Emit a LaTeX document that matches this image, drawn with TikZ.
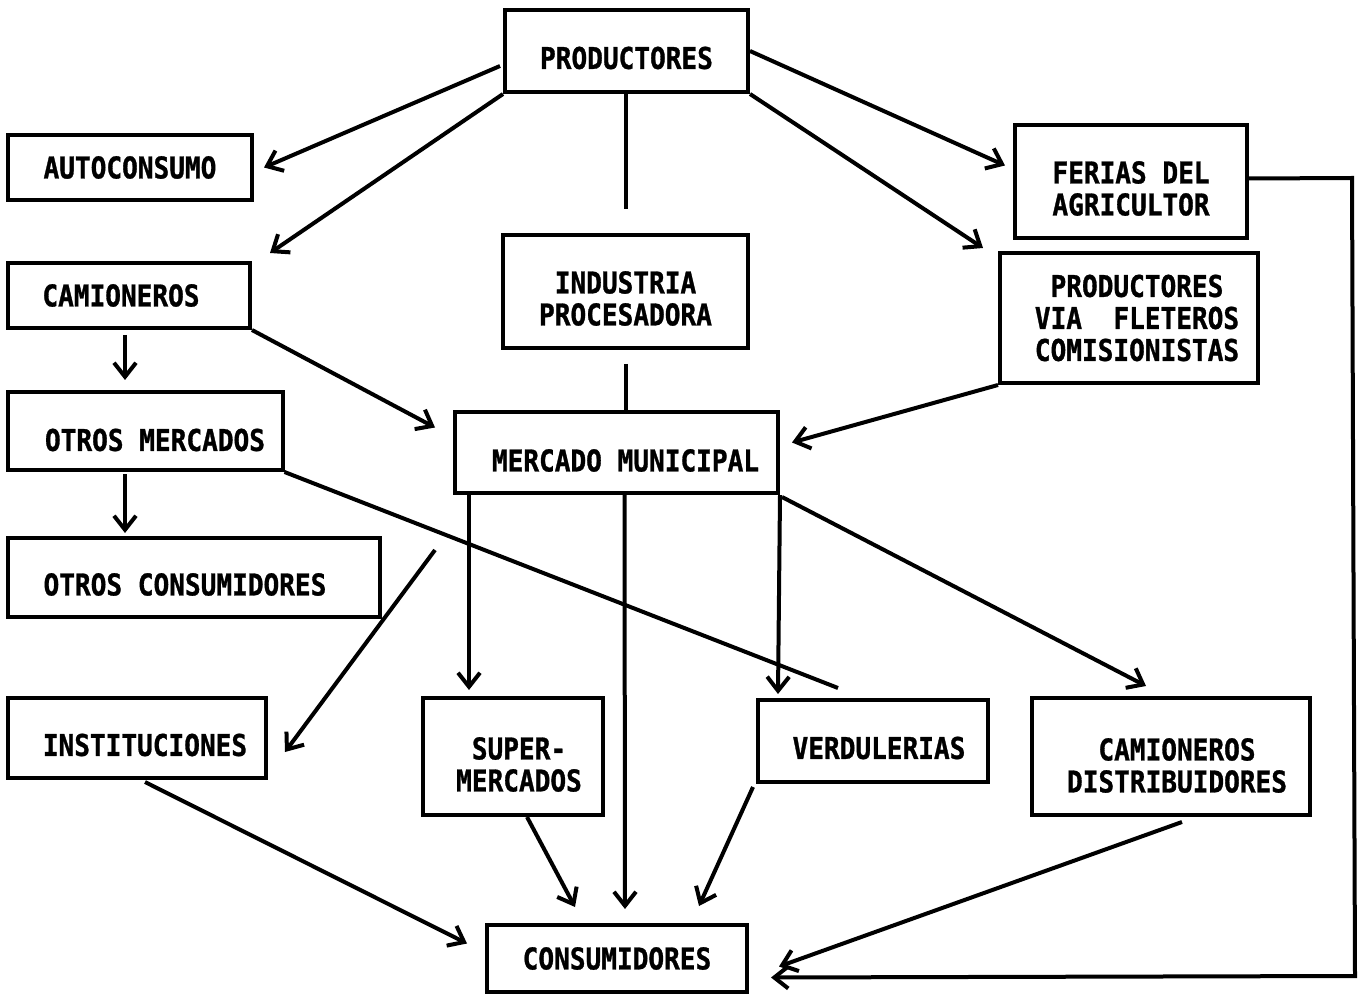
\documentclass[tikz,border=0pt]{standalone}
\usepackage{fontspec}
\newfontfamily\boxfont{DejaVu Sans Mono}[FakeStretch=0.87, BoldFeatures={FakeBold=1}]
\usetikzlibrary{arrows.meta,calc}

\begin{document}
\begin{tikzpicture}[x=0.5pt,y=-0.5pt,
  box/.style={draw, line width=2pt, inner sep=0pt},
  txt/.style={inner sep=0pt, align=center,
              font=\boxfont\bfseries\fontsize{15}{16}\selectfont},
  flow/.style={line width=2pt,
               -{Straight Barb[length=7pt,width=11pt,line width=2pt]}},
  link/.style={line width=2pt}]
\fill[white] (0,0) rectangle (1365,994);
\useasboundingbox (0,0) rectangle (1365,994);

% boxes
\node[box, minimum width=121.5pt, minimum height=41pt]   (prod) at (626.5,51)   {};
\node[box, minimum width=122pt,   minimum height=32.5pt] (auto) at (130,167.5)  {};
\node[box, minimum width=121pt,   minimum height=32.5pt] (cam)  at (129,295.5)  {};
\node[box, minimum width=137.5pt, minimum height=39pt]   (otrm) at (145,431)    {};
\node[box, minimum width=186pt,   minimum height=39.5pt] (otrc) at (194,577.5)  {};
\node[box, minimum width=129pt,   minimum height=40pt]   (inst) at (137,738)    {};
\node[box, minimum width=122.5pt, minimum height=56.5pt] (ind)  at (625.5,291.5){};
\node[box, minimum width=161.5pt, minimum height=40.5pt] (mm)   at (616.5,452.5){};
\node[box, minimum width=116pt,   minimum height=56.5pt] (fer)  at (1131,181.5) {};
\node[box, minimum width=129pt,   minimum height=65pt]   (pvf)  at (1129,318)   {};
\node[box, minimum width=90pt,    minimum height=58.5pt] (sup)  at (513,756.5)  {};
\node[box, minimum width=115pt,   minimum height=41pt]   (ver)  at (873,741)    {};
\node[box, minimum width=139pt,   minimum height=58.5pt] (cdis) at (1171,756.5) {};
\node[box, minimum width=130pt,   minimum height=33.5pt] (cons) at (617,958.5)  {};

% box labels
\node[txt] (prod-t) at ($(prod)+(0,7)$)   {PRODUCTORES};
\node[txt] (auto-t) at (auto)             {AUTOCONSUMO};
\node[txt] (cam-t)  at ($(cam)+(-8,0)$)   {CAMIONEROS};
\node[txt] (otrm-t) at ($(otrm)+(10,9)$)  {OTROS MERCADOS};
\node[txt] (otrc-t) at ($(otrc)+(-9,7)$)  {OTROS CONSUMIDORES};
\node[txt] (inst-t) at ($(inst)+(8,7)$)   {INSTITUCIONES};
\node[txt] (ind-t)  at ($(ind)+(0,7)$)    {INDUSTRIA\\PROCESADORA};
\node[txt] (mm-t)   at ($(mm)+(9,8)$)     {MERCADO MUNICIPAL};
\node[txt] (fer-t)  at ($(fer)+(0,7)$)    {FERIAS DEL\\AGRICULTOR};
\node[txt] (pvf-t)  at ($(pvf)+(8,0)$)    {PRODUCTORES\\VIA~~FLETEROS\\COMISIONISTAS};
\node[txt] (sup-t)  at ($(sup)+(6,8)$)    {SUPER-\\MERCADOS};
\node[txt] (ver-t)  at ($(ver)+(6,7)$)    {VERDULERIAS};
\node[txt] (cdis-t) at ($(cdis)+(6,9)$)   {CAMIONEROS\\DISTRIBUIDORES};
\node[txt] (cons-t) at (cons)             {CONSUMIDORES};

% corners of the return line from the farmers' fairs
\coordinate (r1) at (1352,178);
\coordinate (r2) at (1355,976);

% flows out of the producers
\draw[flow] ($(prod.west)+(-3,15)$) -- ($(auto.east)+(10,0)$);
\draw[flow] (prod.south west) -- ($(cam.north east)+(18,-8)$);
\draw[link, shorten >=12pt] (prod.south -| ind.north) -- (ind.north);
\draw[flow] (prod.east) -- ($(fer.west)+(-8,-16)$);
\draw[flow] (prod.south east) -- ($(pvf.north west)+(-15,-3)$);

% left column
\draw[flow] ($(cam.south)+(-4,5)$) -- ($(otrm.north)+(-20,-10)$);
\draw[flow] (cam.south east) -- ($(mm.west)+(-18,-25)$);
\draw[flow] ($(otrm.south)+(-20,2)$) -- ($(otrc.north)+(-69,-3)$);
\draw[link] (otrm.south east) -- ($(ver.north west)+(82,-10)$);

% into the municipal market
\draw[link, shorten <=7pt] (ind.south) -- (ind.south |- mm.north);
\draw[flow] (pvf.south west) -- ($(mm.east)+(12,-10)$);

% out of the municipal market
\draw[flow] ($(mm.south west)+(-18,55)$) -- ($(inst.east)+(17,14)$);
\draw[flow] ($(mm.south west)+(16,0)$) -- ($(sup.north west)+(48,-6)$);
\draw[flow] ($(mm.south)+(8,0)$) -- ($(cons.north)+(8,-14)$);
\draw[flow] (mm.south east) -- ($(ver.north west)+(22,-4)$);
\draw[flow] ($(mm.south east)+(2,2)$) -- ($(cdis.north)+(-25,-10)$);

% into the consumers
\draw[flow] ($(inst.south)+(8,2)$) -- ($(cons.west)+(-18,-15)$);
\draw[flow] ($(sup.south)+(14,0)$) -- ($(cons.north west)+(90,-16)$);
\draw[flow] ($(ver.south west)+(-3,3)$) -- ($(cons.north east)+(-50,-17)$);
\draw[flow] ($(cdis.south)+(11,5)$) -- ($(cons.east)+(30,8)$);
\draw[flow] ($(fer.east)+(0,-3)$) -- (r1) -- (r2) -- ($(cons.east)+(22,19)$);
\end{tikzpicture}
\end{document}
